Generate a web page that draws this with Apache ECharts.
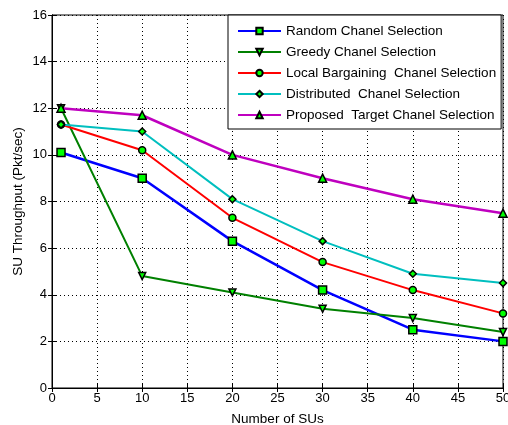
<!DOCTYPE html>
<html>
<head>
<meta charset="UTF-8">
<title>SU Throughput</title>
<script src="https://cdn.jsdelivr.net/npm/echarts@6/dist/echarts.min.js"></script>
<style>
  html, body { margin: 0; padding: 0; background: #fff; }
  #chart { width: 508px; height: 425px; }
</style>
</head>
<body>
<div id="chart"></div>
<script>
var numSUs = [1, 10, 20, 30, 40, 50];
var randomSel = [10.1, 9.0, 6.3, 4.2, 2.5, 2.0];
var greedySel = [12.0, 4.8, 4.1, 3.4, 3.0, 2.4];
var localSel = [11.3, 10.2, 7.3, 5.4, 4.2, 3.2];
var distSel = [11.3, 11.0, 8.1, 6.3, 4.9, 4.5];
var proposedSel = [12.0, 11.7, 10.0, 9.0, 8.1, 7.5];

function pairs(ys) {
    return numSUs.map(function (x, i) { return [x, ys[i]]; });
}

var font = 'Liberation Sans, Arial, sans-serif';

function line(name, ys, color, symbol, size, rotate, width) {
    return {
        name: name,
        type: 'line',
        data: pairs(ys),
        symbol: symbol,
        symbolSize: size,
        symbolRotate: rotate || 0,
        showAllSymbol: true,
        lineStyle: { color: color, width: width || 2 },
        itemStyle: { color: '#00ff00', borderColor: '#000', borderWidth: 1.5 },
        emphasis: { disabled: true },
        z: 3
    };
}

var series = [
    line('Random Chanel Selection', randomSel, '#0000ff', 'rect', 8, 0, 2.5),
    line('Greedy Chanel Selection', greedySel, '#008000', 'triangle', 7, 180),
    line('Local Bargaining  Chanel Selection', localSel, '#ff0000', 'circle', 7),
    line('Distributed  Chanel Selection', distSel, '#00bfbf', 'diamond', 7),
    line('Proposed  Target Chanel Selection', proposedSel, '#bf00bf', 'triangle', 8, 0, 2.5)
];

var chart = echarts.init(document.getElementById('chart'));
chart.setOption({
    backgroundColor: '#fff',
    animation: false,
    grid: {
        left: 52, right: 5, top: 15, bottom: 37,
        outerBoundsMode: 'none',
        show: true, borderColor: '#000', borderWidth: 1
    },
    legend: {
        orient: 'vertical',
        left: 228,
        top: 15,
        padding: [8, 5, 6, 9],
        itemWidth: 43,
        itemHeight: 8,
        itemGap: 5,
        backgroundColor: '#fff',
        borderColor: '#000',
        borderWidth: 1,
        textStyle: { fontFamily: font, fontSize: 13.5, color: '#000', lineHeight: 16 },
        data: series.map(function (s) { return s.name; })
    },
    xAxis: [{
        type: 'value', min: 0, max: 50, interval: 5,
        name: 'Number of SUs', nameLocation: 'middle', nameGap: 24,
        nameMoveOverlap: false,
        nameTextStyle: { fontFamily: font, fontSize: 13.5, color: '#000' },
        axisLine: { lineStyle: { color: '#000' } },
        axisTick: { inside: true, length: 4, lineStyle: { color: '#000' } },
        axisLabel: { fontFamily: font, fontSize: 13, color: '#000', margin: 4 },
        splitLine: { show: true, lineStyle: { color: '#000', type: [1, 3], width: 1 } }
    }, {
        type: 'value', min: 0, max: 50, interval: 5, position: 'top',
        axisLine: { show: true, lineStyle: { color: '#000' } },
        axisTick: { inside: true, length: 4, lineStyle: { color: '#000' } },
        axisLabel: { show: false },
        splitLine: { show: false }
    }],
    yAxis: [{
        type: 'value', min: 0, max: 16, interval: 2,
        name: 'SU Throughput (Pkt/sec)', nameLocation: 'middle', nameGap: 27,
        nameMoveOverlap: false,
        nameTextStyle: { fontFamily: font, fontSize: 13.5, color: '#000' },
        axisLine: { show: true, lineStyle: { color: '#000' } },
        axisTick: { show: true, inside: true, length: 4, lineStyle: { color: '#000' } },
        axisLabel: { fontFamily: font, fontSize: 13, color: '#000', margin: 5 },
        splitLine: { show: true, lineStyle: { color: '#000', type: [1, 3], width: 1 } }
    }, {
        type: 'value', min: 0, max: 16, interval: 2, position: 'right',
        axisLine: { show: true, lineStyle: { color: '#000' } },
        axisTick: { show: true, inside: true, length: 4, lineStyle: { color: '#000' } },
        axisLabel: { show: false },
        splitLine: { show: false }
    }],
    series: series
});
</script>
</body>
</html>
